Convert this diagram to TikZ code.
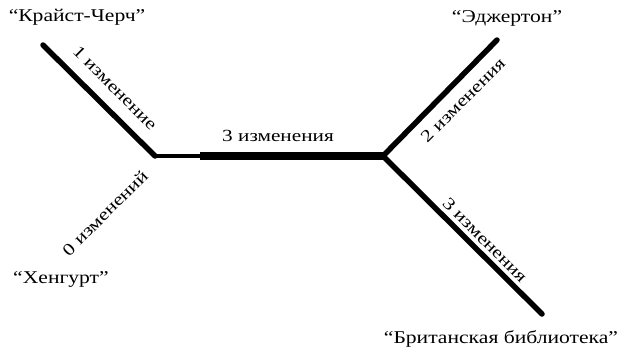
\documentclass[tikz,border=0pt]{standalone}
\usepackage{fontspec}
\setmainfont{Liberation Serif}
\newfontfamily\namefont[FakeStretch=1.2]{Liberation Serif}
\newfontfamily\lblfont[FakeStretch=1.25]{Liberation Serif}
\begin{document}
\begin{tikzpicture}[x=1pt,y=-1pt,
  branch/.style={line width=5.5pt,line cap=round,line join=miter},
  lbl/.style={font=\lblfont\fontsize{17}{19}\selectfont,inner sep=0pt},
  tname/.style={font=\namefont\fontsize{18}{20}\selectfont,inner sep=0pt}]
\useasboundingbox (0,0) rectangle (622,357);
\coordinate (kc) at (43,45);
\coordinate (j1) at (155,156);
\coordinate (m) at (200,156);
\coordinate (j2) at (383,156);
\coordinate (ed) at (497,40);
\coordinate (bl) at (542,314);
\node[tname] (nkc) at (77,17) {“Крайст-Черч”};
\node[tname] (ned) at (507,18) {“Эджертон”};
\node[tname] (nhe) at (61,279) {“Хенгурт”};
\node[tname] (nbl) at (501,339) {“Британская библиотека”};
\draw[branch] (kc) -- (j1);
\draw[line width=4.5pt,line cap=butt] (j1) -- (m);
\draw[line width=8.5pt] (m) -- (j2);
\draw[branch] (ed) -- (j2) -- (bl);
\node[lbl] (l1) at (115,88) [rotate=-45] {1 изменение};
\node[lbl] (l0) at (105,213) [rotate=45] {0 изменений};
\node[lbl] (l3a) at (278,136) {3 изменения};
\node[lbl] (l2) at (463,100) [rotate=45] {2 изменения};
\node[lbl] (l3b) at (485,240) [rotate=-45] {3 изменения};
\end{tikzpicture}
\end{document}
